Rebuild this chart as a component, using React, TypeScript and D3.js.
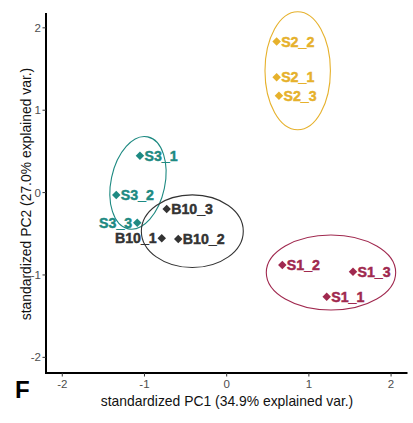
import React from "react";
import * as d3 from "d3";

const labels = ["S2_2", "S2_1", "S2_3", "S1_2", "S1_3", "S1_1", "S3_1", "S3_2", "S3_3", "B10_3", "B10_1", "B10_2"];
const groups = ["S2", "S2", "S2", "S1", "S1", "S1", "S3", "S3", "S3", "B10", "B10", "B10"];
const pc1 = [0.608, 0.608, 0.636, 0.677, 1.537, 1.217, -1.055, -1.343, -1.088, -0.73, -0.79, -0.589];
const pc2 = [1.835, 1.40, 1.175, -0.879, -0.96, -1.264, 0.446, -0.028, -0.365, -0.2, -0.554, -0.563];
const labelSide = ["r", "r", "r", "r", "r", "r", "r", "r", "l", "r", "l", "r"];

const groupNames = ["S2", "S1", "S3", "B10"];
const groupColors = ["#E6B12C", "#A0294F", "#1E8A82", "#333333"];
const ellipseCx = [0.864, 1.269, -1.079, -0.418];
const ellipseCy = [1.479, -0.970, 0.118, -0.469];
const ellipseRx = [0.398, 0.787, 0.328, 0.620];
const ellipseRy = [0.717, 0.456, 0.571, 0.441];
const ellipseAngle = [0, 0, 12, 0];

const xTicks = [-2, -1, 0, 1, 2];
const yTicks = [-2, -1, 0, 1, 2];

const W = 413, H = 423;
const left = 46, right = 407.5, top = 13, bottom = 373;

export default function App() {
  const x = d3.scaleLinear().domain([-2.198, 2.2]).range([left, left + (2.2 + 2.198) * 82.2]);
  const y = d3.scaleLinear().domain([-2.19, 2.18]).range([bottom, top]);
  const colorOf = (g: string) => groupColors[groupNames.indexOf(g)];
  const font = "'Liberation Sans', Arial, sans-serif";
  const diamond = d3.symbol().type(d3.symbolDiamond2).size(46)() as string;

  return (
    <svg width={W} height={H} style={{ position: "absolute", left: 0, top: 0 }} fontFamily={font}>
      <rect width={W} height={H} fill="#fff" />
      {groupNames.map((g, i) => {
        const cx = x(ellipseCx[i]);
        const cy = y(ellipseCy[i]);
        const rx = x(ellipseRx[i]) - x(0);
        const ry = y(0) - y(ellipseRy[i]);
        return (
          <ellipse key={g} cx={cx} cy={cy} rx={rx} ry={ry}
            transform={`rotate(${ellipseAngle[i]} ${cx} ${cy})`}
            fill="none" stroke={groupColors[i]} strokeWidth={1.1} />
        );
      })}
      {labels.map((l, i) => {
        const px = x(pc1[i]);
        const py = y(pc2[i]);
        const c = colorOf(groups[i]);
        const isLeft = labelSide[i] === "l";
        return (
          <g key={l}>
            <path d={diamond} transform={`translate(${px},${py})`} fill={c} />
            <text x={isLeft ? px - 5 : px + 4.5} y={py} dy="0.36em"
              textAnchor={isLeft ? "end" : "start"} fontWeight="bold" fontSize={14.2}
              fill={c} stroke={c} strokeWidth={0.45}>{l}</text>
          </g>
        );
      })}
      <line x1={left} x2={left} y1={top} y2={bottom + 1} stroke="#000" strokeWidth={2} />
      <line x1={left - 1} x2={right} y1={bottom} y2={bottom} stroke="#000" strokeWidth={2} />
      {xTicks.map(t => (
        <g key={"x" + t}>
          <line x1={x(t)} x2={x(t)} y1={bottom} y2={bottom + 3.5} stroke="#333" strokeWidth={1} />
          <text x={x(t)} y={bottom + 15} textAnchor="middle" fontSize={11.5} fill="#4D4D4D">{t}</text>
        </g>
      ))}
      {yTicks.map(t => (
        <g key={"y" + t}>
          <line x1={left - 3.5} x2={left} y1={y(t)} y2={y(t)} stroke="#333" strokeWidth={1} />
          <text x={left - 5} y={y(t)} dy="0.36em" textAnchor="end" fontSize={11.5} fill="#4D4D4D">{t}</text>
        </g>
      ))}
      <text x={227} y={406} textAnchor="middle" fontSize={13.9} fill="#111">standardized PC1 (34.9% explained var.)</text>
      <text transform={`translate(31,194) rotate(-90)`} textAnchor="middle" fontSize={13.9} fill="#111">standardized PC2 (27.0% explained var.)</text>
      <text x={15} y={398} fontSize={24} fontWeight="bold" fill="#000">F</text>
    </svg>
  );
}
